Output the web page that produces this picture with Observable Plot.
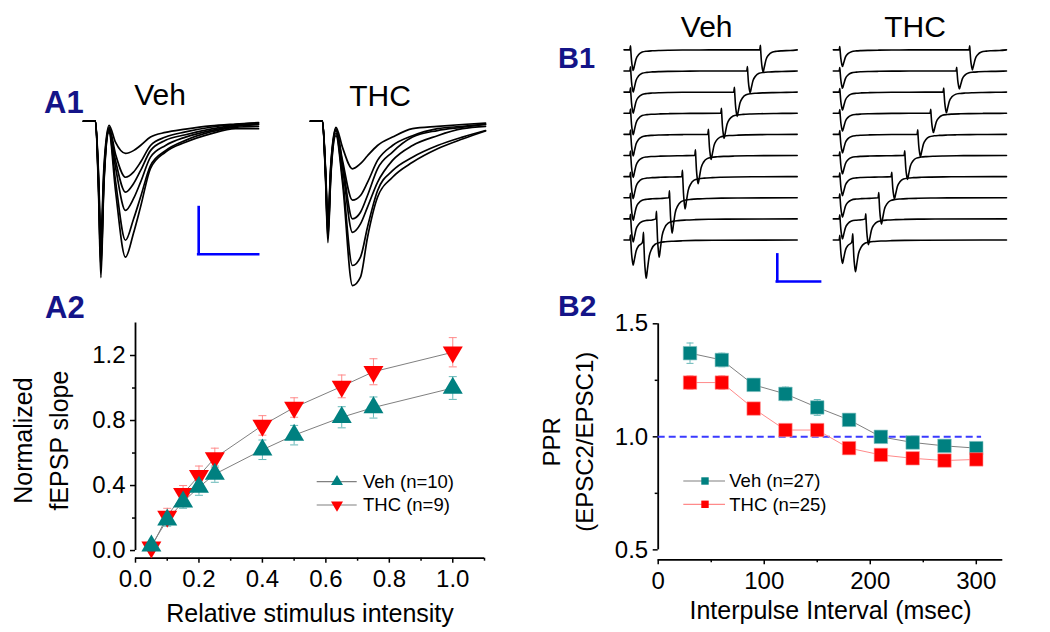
<!DOCTYPE html>
<html lang="en"><head><meta charset="utf-8"><title>fEPSP and PPR figure</title>
<script src="https://cdn.jsdelivr.net/npm/d3@7"></script>
<script src="https://cdn.jsdelivr.net/npm/@observablehq/plot@0.6"></script>
<style>
html,body{margin:0;padding:0;background:#fff;}
#fig{position:relative;width:1050px;height:632px;overflow:hidden;font-family:Arial,"Liberation Sans",Helvetica,sans-serif;}
.lbl{position:absolute;white-space:nowrap;line-height:1;color:#000;}
.panel{font-weight:bold;color:#141488;}
</style></head><body><div id="fig"></div>
<script>
// ---------- A1: field EPSP traces (time in ms, amplitude in mV) ----------
const a1Time = [0, 2.0, 2.5, 2.9, 3.4, 4.25, 5.33, 7.0, 8.33, 9.5, 11.17, 13.67, 17.0, 21.17, 25.33, 29.17];
const a1VehTraces = [
  [0, 0, -1.10, -2.45, -1.00, -0.09, -0.45, -0.69, -0.63, -0.52, -0.34, -0.24, -0.17, -0.10, -0.06, -0.03],
  [0, 0, -1.20, -2.66, -1.10, -0.13, -0.70, -1.20, -1.09, -0.88, -0.52, -0.34, -0.23, -0.13, -0.07, -0.04],
  [0, 0, -1.30, -2.88, -1.20, -0.16, -0.84, -1.52, -1.34, -1.06, -0.63, -0.41, -0.29, -0.17, -0.09, -0.06],
  [0, 0, -1.35, -3.03, -1.25, -0.18, -0.98, -1.91, -1.66, -1.31, -0.77, -0.52, -0.34, -0.20, -0.11, -0.07],
  [0, 0, -1.40, -3.15, -1.30, -0.20, -1.27, -2.55, -2.10, -1.63, -0.95, -0.63, -0.41, -0.23, -0.13, -0.11],
  [0, 0, -1.50, -3.35, -1.35, -0.24, -1.48, -2.91, -2.40, -1.84, -1.01, -0.66, -0.45, -0.27, -0.16, -0.16]
];
const a1ThcTraces = [
  [0, 0, -1.00, -2.10, -0.90, -0.13, -0.56, -1.02, -0.91, -0.74, -0.52, -0.34, -0.16, -0.11, -0.07, -0.04],
  [0, 0, -1.05, -2.20, -0.95, -0.16, -0.84, -1.69, -1.59, -1.31, -0.84, -0.52, -0.31, -0.16, -0.11, -0.06],
  [0, 0, -1.10, -2.30, -1.00, -0.19, -0.91, -2.09, -1.95, -1.59, -1.02, -0.66, -0.34, -0.20, -0.13, -0.07],
  [0, 0, -1.10, -2.40, -1.05, -0.21, -0.99, -2.38, -2.20, -1.84, -1.31, -0.84, -0.52, -0.31, -0.16, -0.11],
  [0, 0, -1.15, -2.50, -1.10, -0.26, -1.20, -3.09, -2.91, -2.27, -1.49, -1.06, -0.77, -0.52, -0.34, -0.20],
  [0, 0, -1.20, -2.60, -1.15, -0.31, -1.31, -3.52, -3.34, -2.49, -1.63, -1.20, -0.88, -0.59, -0.38, -0.21]
];
const a1ScaleBar = {t0: 19.2, v0: -2.85, dt: 10, dv: 1}; // 10 ms, 1 mV

// ---------- B1: paired-pulse EPSC sweeps (time in ms, current in pA) ----------
const b1Intervals = [300, 270, 240, 210, 180, 150, 120, 90, 60, 30];
const b1VehEpsc1 = [155, 158, 158, 161, 161, 165, 165, 169, 173, 188];
const b1VehEpsc2 = [167, 163, 182, 188, 188, 212, 242, 265, 287, 287];
const b1ThcEpsc1 = [125, 130, 135, 135, 139, 139, 143, 146, 150, 175];
const b1ThcEpsc2 = [150, 135, 155, 145, 167, 180, 167, 197, 193, 238];
const epscShapeTime = [-1.5, 0, 0.8, 2.3, 4.5, 6.2, 9.2, 13, 19, 27, 38, 50, 69, 90, 120, 160];
const epscShapeFrac = [0, -0.2, 0.05, 0.5, 0.85, 1.0, 0.76, 0.44, 0.23, 0.11, 0.065, 0.045, 0.03, 0.02, 0.01, 0.005];
const b1SweepStart = -15, b1SweepEnd = 385, b1SweepSpacing = 158.5;
const b1ScaleBar = {t0: 339, v0: -1738, dt: 100, dv: 200}; // 100 ms, 200 pA

// ---------- A2: input-output ----------
const a2Intensity = [0.05, 0.10, 0.15, 0.20, 0.25, 0.40, 0.50, 0.65, 0.75, 1.00];
const a2VehSlope = [0.03, 0.19, 0.30, 0.39, 0.47, 0.62, 0.71, 0.82, 0.88, 1.00];
const a2VehSem   = [0.01, 0.04, 0.04, 0.05, 0.05, 0.06, 0.06, 0.065, 0.065, 0.07];
const a2ThcSlope = [0.02, 0.21, 0.35, 0.46, 0.57, 0.77, 0.88, 1.01, 1.10, 1.22];
const a2ThcSem   = [0.01, 0.05, 0.05, 0.06, 0.06, 0.06, 0.06, 0.07, 0.08, 0.09];
const a2XTicks = [0, 0.2, 0.4, 0.6, 0.8, 1.0];
const a2XMinor = [0.1, 0.3, 0.5, 0.7, 0.9, 1.1];
const a2YTicks = [0, 0.4, 0.8, 1.2];
const a2YMinor = [0.2, 0.6, 1.0];

// ---------- B2: paired-pulse ratio ----------
const b2Interval = [30, 60, 90, 120, 150, 180, 210, 240, 270, 300];
const b2VehPPR = [1.37, 1.34, 1.23, 1.19, 1.13, 1.075, 1.00, 0.975, 0.96, 0.95];
const b2VehSem = [0.045, 0.03, 0.025, 0.03, 0.035, 0.02, 0.02, 0.02, 0.02, 0.015];
const b2ThcPPR = [1.24, 1.24, 1.125, 1.03, 1.03, 0.95, 0.92, 0.905, 0.895, 0.90];
const b2ThcSem = [0.03, 0.03, 0.02, 0.02, 0.02, 0.015, 0.015, 0.015, 0.015, 0.015];
const b2XTicks = [0, 100, 200, 300];
const b2XMinor = [50, 150, 250];
const b2YTicks = [0.5, 1.0, 1.5];
const b2YMinor = [0.75, 1.25];

// ---------- styling ----------
const FONT = "Arial, 'Liberation Sans', Helvetica, sans-serif";
const TEAL = "#008080", TEAL_LIGHT = "#66b8b8", RED = "#ff0000", RED_LIGHT = "#ff8a8a";
const GREY = "#808080", BLUE = "#0000ff", NAVY = "#141488";
const fig = document.getElementById("fig");
const baseStyle = {background: "transparent", fontFamily: FONT, color: "#000", overflow: "visible"};

function place(el) {
  el.style.position = "absolute";
  el.style.left = "0px";
  el.style.top = "0px";
  fig.appendChild(el);
}

const triUp = {draw(ctx, size) { const r = Math.sqrt(size / Math.PI); ctx.moveTo(0, -1.13 * r); ctx.lineTo(r, 0.57 * r); ctx.lineTo(-r, 0.57 * r); ctx.closePath(); }};
const triDown = {draw(ctx, size) { const r = Math.sqrt(size / Math.PI); ctx.moveTo(0, 1.13 * r); ctx.lineTo(r, -0.57 * r); ctx.lineTo(-r, -0.57 * r); ctx.closePath(); }};
const capSym = {draw(ctx, size) { const r = Math.sqrt(size / Math.PI); ctx.moveTo(-r, 0); ctx.lineTo(r, 0); }};

// ---------- A1 ----------
function a1Panel(traces, xRange, withBar) {
  const rows = traces.flatMap((vals, i) => a1Time.map((t, k) => ({trace: i, t, v: vals[k]})));
  const marks = [
    Plot.line(rows, {x: "t", y: "v", z: "trace", stroke: "#000", strokeWidth: 1.7, curve: "monotone-x"})
  ];
  if (withBar) {
    const b = a1ScaleBar;
    marks.push(
      Plot.ruleX([b.t0], {y1: b.v0, y2: b.v0 + b.dv, stroke: BLUE, strokeWidth: 2.6, strokeLinecap: "square"}),
      Plot.ruleY([b.v0], {x1: b.t0, x2: b.t0 + b.dt, stroke: BLUE, strokeWidth: 2.6, strokeLinecap: "square"})
    );
  }
  return Plot.plot({
    width: 1050, height: 632,
    x: {domain: [0, 29.17], range: xRange, axis: null},
    y: {domain: [-3.6, 0.3], range: [288.8, 106.7], axis: null},
    style: baseStyle, marks
  });
}
place(a1Panel(a1VehTraces, [83, 258], true));
place(a1Panel(a1ThcTraces, [310, 485], false));

// ---------- B1 ----------
function sweep(offset, a1, a2, interval) {
  const pts = [{t: b1SweepStart, v: offset}];
  epscShapeTime.forEach((s, k) => {
    if (s < interval + epscShapeTime[0]) pts.push({t: s, v: offset - a1 * epscShapeFrac[k]});
  });
  epscShapeTime.forEach((s, k) => {
    const t = s + interval;
    if (t < b1SweepEnd) pts.push({t, v: offset - a2 * epscShapeFrac[k]});
  });
  pts.push({t: b1SweepEnd, v: offset});
  return pts;
}
function b1Panel(e1, e2, xRange, withBar) {
  const rows = b1Intervals.flatMap((iv, i) =>
    sweep(-i * b1SweepSpacing, e1[i], e2[i], iv).map(p => ({...p, trace: i})));
  const marks = [
    Plot.line(rows, {x: "t", y: "v", z: "trace", stroke: "#000", strokeWidth: 1.6, curve: "monotone-x"})
  ];
  if (withBar) {
    const b = b1ScaleBar;
    marks.push(
      Plot.ruleX([b.t0], {y1: b.v0, y2: b.v0 + b.dv, stroke: BLUE, strokeWidth: 2.6, strokeLinecap: "square"}),
      Plot.ruleY([b.v0], {x1: b.t0, x2: b.t0 + b.dt, stroke: BLUE, strokeWidth: 2.6, strokeLinecap: "square"})
    );
  }
  return Plot.plot({
    width: 1050, height: 632,
    x: {domain: [b1SweepStart, b1SweepEnd], range: xRange, axis: null},
    y: {domain: [-1805, 145], range: [290, 30], axis: null},
    style: baseStyle, marks
  });
}
place(b1Panel(b1VehEpsc1, b1VehEpsc2, [623.5, 796.7], true));
place(b1Panel(b1ThcEpsc1, b1ThcEpsc2, [832.8, 1006.0], false));

// ---------- shared scatter helpers ----------
function errorMarks(data, color, capR) {
  return [
    Plot.ruleX(data, {x: "x", y1: d => d.y - d.e, y2: d => d.y + d.e, stroke: color, strokeWidth: 1}),
    Plot.dot(data, {x: "x", y: d => d.y + d.e, symbol: capSym, r: capR, fill: "none", stroke: color, strokeWidth: 1}),
    Plot.dot(data, {x: "x", y: d => d.y - d.e, symbol: capSym, r: capR, fill: "none", stroke: color, strokeWidth: 1})
  ];
}

// ---------- A2 ----------
const a2Veh = a2Intensity.map((x, i) => ({x, y: a2VehSlope[i], e: a2VehSem[i]}));
const a2Thc = a2Intensity.map((x, i) => ({x, y: a2ThcSlope[i], e: a2ThcSem[i]}));
const a2YDomain = [-0.047, 1.4], a2XDomain = [0, 1.1];
place(Plot.plot({
  width: 1050, height: 632,
  marginLeft: 135, marginRight: 566, marginTop: 322.5, marginBottom: 74.3,
  x: {domain: a2XDomain}, y: {domain: a2YDomain},
  style: baseStyle,
  marks: [
    Plot.ruleX([0], {y1: 0, y2: a2YDomain[1], stroke: "#000", strokeWidth: 1.8}),
    Plot.ruleY([a2YDomain[0]], {x1: 0, x2: a2XDomain[1], stroke: "#000", strokeWidth: 1.8}),
    Plot.axisY(a2YTicks, {tickSize: 5, tickPadding: 5, tickFormat: d => d.toFixed(1), fontSize: 24, label: null, strokeWidth: 1.5}),
    Plot.axisY(a2YMinor, {tickSize: 3, tickFormat: () => "", label: null, strokeWidth: 1.5}),
    Plot.axisX(a2XTicks, {tickSize: 5, tickPadding: 7, tickFormat: d => d.toFixed(1), fontSize: 24, label: null, strokeWidth: 1.5}),
    Plot.axisX(a2XMinor, {tickSize: 3, tickFormat: () => "", label: null, strokeWidth: 1.5}),
    Plot.line(a2Thc, {x: "x", y: "y", stroke: GREY, strokeWidth: 1}),
    Plot.line(a2Veh, {x: "x", y: "y", stroke: GREY, strokeWidth: 1}),
    ...errorMarks(a2Thc, RED_LIGHT, 4),
    ...errorMarks(a2Veh, TEAL_LIGHT, 4),
    Plot.dot(a2Thc, {x: "x", y: "y", symbol: triDown, r: 10, fill: RED, stroke: "none"}),
    Plot.dot(a2Veh, {x: "x", y: "y", symbol: triUp, r: 10, fill: TEAL, stroke: "none"}),
    Plot.text(["Relative stimulus intensity"], {text: d => d, frameAnchor: "bottom", textAnchor: "middle", lineAnchor: "middle", dy: 56, fontSize: 25}),
    Plot.text(["Normalized"], {text: d => d, frameAnchor: "left", textAnchor: "middle", lineAnchor: "middle", rotate: -90, dx: -112, fontSize: 25}),
    Plot.text(["fEPSP slope"], {text: d => d, frameAnchor: "left", textAnchor: "middle", lineAnchor: "middle", rotate: -90, dx: -76, fontSize: 25})
  ]
}));

// ---------- B2 ----------
const b2Veh = b2Interval.map((x, i) => ({x, y: b2VehPPR[i], e: b2VehSem[i]}));
const b2Thc = b2Interval.map((x, i) => ({x, y: b2ThcPPR[i], e: b2ThcSem[i]}));
const b2YDomain = [0.456, 1.5], b2XDomain = [0, 325];
place(Plot.plot({
  width: 1050, height: 632,
  marginLeft: 657.7, marginRight: 47.7, marginTop: 323.3, marginBottom: 72.7,
  x: {domain: b2XDomain}, y: {domain: b2YDomain},
  style: baseStyle,
  marks: [
    Plot.ruleX([0], {y1: 0.5, y2: b2YDomain[1], stroke: "#000", strokeWidth: 1.8}),
    Plot.ruleY([b2YDomain[0]], {x1: 0, x2: b2XDomain[1], stroke: "#000", strokeWidth: 1.8}),
    Plot.axisY(b2YTicks, {tickSize: 5, tickPadding: 5, tickFormat: d => d.toFixed(1), fontSize: 24, label: null, strokeWidth: 1.5}),
    Plot.axisY(b2YMinor, {tickSize: 3, tickFormat: () => "", label: null, strokeWidth: 1.5}),
    Plot.axisX(b2XTicks, {tickSize: 5, tickPadding: 7, tickFormat: d => String(d), fontSize: 24, label: null, strokeWidth: 1.5}),
    Plot.axisX(b2XMinor, {tickSize: 3, tickFormat: () => "", label: null, strokeWidth: 1.5}),
    Plot.ruleY([1.0], {x1: 0, x2: 305, stroke: "#3a3aff", strokeWidth: 2, strokeDasharray: "7,4"}),
    Plot.line(b2Veh, {x: "x", y: "y", stroke: GREY, strokeWidth: 1}),
    Plot.line(b2Thc, {x: "x", y: "y", stroke: RED_LIGHT, strokeWidth: 1}),
    ...errorMarks(b2Veh, TEAL_LIGHT, 3.5),
    ...errorMarks(b2Thc, RED_LIGHT, 3.5),
    Plot.dot(b2Veh, {x: "x", y: "y", symbol: "square", r: 7.6, fill: TEAL, stroke: "#7fc0c0", strokeWidth: 0.6}),
    Plot.dot(b2Thc, {x: "x", y: "y", symbol: "square", r: 7.6, fill: RED, stroke: "#ff9a9a", strokeWidth: 0.6}),
    Plot.text(["Interpulse Interval (msec)"], {text: d => d, frameAnchor: "bottom", textAnchor: "middle", lineAnchor: "middle", dy: 51, fontSize: 25}),
    Plot.text(["PPR"], {text: d => d, frameAnchor: "left", textAnchor: "middle", lineAnchor: "middle", rotate: -90, dx: -106, fontSize: 24}),
    Plot.text(["(EPSC2/EPSC1)"], {text: d => d, frameAnchor: "left", textAnchor: "middle", lineAnchor: "middle", rotate: -90, dx: -73, fontSize: 24})
  ]
}));

// ---------- legends ----------
function legend(left, top, rows, opts) {
  const svg = d3.create("svg").attr("width", 220).attr("height", 60)
    .style("position", "absolute").style("left", left + "px").style("top", top + "px").style("overflow", "visible");
  rows.forEach((r, i) => {
    const cy = opts.y0 + i * opts.dy;
    svg.append("line").attr("x1", opts.lx1).attr("x2", opts.lx2).attr("y1", cy).attr("y2", cy)
      .attr("stroke", r.line).attr("stroke-width", 1.2);
    if (r.shape === "up") svg.append("path").attr("d", `M${opts.mx},${cy - 6.8}L${opts.mx + 6},${cy + 3.4}L${opts.mx - 6},${cy + 3.4}Z`).attr("fill", r.fill);
    else if (r.shape === "down") svg.append("path").attr("d", `M${opts.mx},${cy + 6.8}L${opts.mx + 6},${cy - 3.4}L${opts.mx - 6},${cy - 3.4}Z`).attr("fill", r.fill);
    else svg.append("rect").attr("x", opts.mx - 3.7).attr("y", cy - 3.7).attr("width", 7.4).attr("height", 7.4).attr("fill", r.fill);
    svg.append("text").attr("x", opts.tx).attr("y", cy + opts.base).attr("font-family", FONT)
      .attr("font-size", opts.fs).attr("fill", "#000").text(r.label);
  });
  fig.appendChild(svg.node());
}
legend(300, 465, [
  {label: "Veh (n=10)", line: GREY, fill: TEAL, shape: "up"},
  {label: "THC (n=9)", line: GREY, fill: RED, shape: "down"}
], {y0: 16.7, dy: 23.3, lx1: 16.7, lx2: 56.7, mx: 37, tx: 63, base: 5.8, fs: 18.5});
legend(670, 465, [
  {label: "Veh (n=27)", line: GREY, fill: TEAL, shape: "sq"},
  {label: "THC (n=25)", line: RED_LIGHT, fill: RED, shape: "sq"}
], {y0: 16, dy: 23.3, lx1: 13.3, lx2: 55, mx: 35, tx: 59.3, base: 6.3, fs: 18.5});

// ---------- panel letters and trace titles ----------
function label(text, x, baseline, size, cls, centered) {
  const d = document.createElement("div");
  d.className = "lbl " + (cls || "");
  d.textContent = text;
  d.style.fontSize = size + "px";
  d.style.top = (baseline - 0.8465 * size) + "px";
  d.style.left = x + "px";
  if (centered) d.style.transform = "translateX(-50%)";
  fig.appendChild(d);
}
label("A1", 44, 113, 31, "panel");
label("A2", 45, 318, 31, "panel");
label("B1", 558, 68.3, 29, "panel");
label("B2", 558, 316.7, 30, "panel");
label("Veh", 160, 105, 30, "", true);
label("THC", 380, 106.5, 30, "", true);
label("Veh", 706.7, 37.3, 30, "", true);
label("THC", 915, 37.3, 30, "", true);
</script></body></html>
